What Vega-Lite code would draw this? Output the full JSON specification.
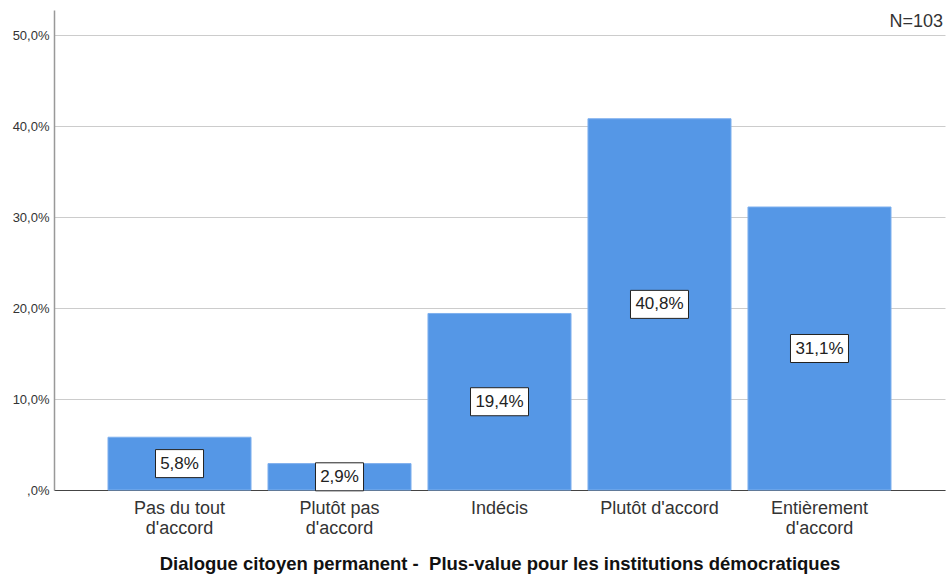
{
  "$schema": "https://vega.github.io/schema/vega-lite/v6.json",
  "width": 891,
  "height": 480,
  "autosize": "none",
  "padding": {"left": 54, "top": 10, "right": 4, "bottom": 88},
  "background": "white",
  "config": {
    "font": "Liberation Sans",
    "view": {"stroke": null},
    "locale": {"number": {"decimal": ",", "thousands": ".", "grouping": [3], "currency": ["", " €"]}}
  },
  "data": {
    "values": [
      {"reponse": "Pas du tout d'accord", "pct": 0.058},
      {"reponse": "Plutôt pas d'accord", "pct": 0.029},
      {"reponse": "Indécis", "pct": 0.194},
      {"reponse": "Plutôt d'accord", "pct": 0.408},
      {"reponse": "Entièrement d'accord", "pct": 0.311}
    ]
  },
  "encoding": {
    "x": {
      "field": "reponse",
      "type": "nominal",
      "sort": null,
      "scale": {"paddingInner": 0.106, "paddingOuter": 0.3375},
      "axis": {
        "title": "Dialogue citoyen permanent -\u00a0 Plus-value pour les institutions démocratiques",
        "titleFontSize": 18.5,
        "titleFontWeight": "bold",
        "titleColor": "#111111",
        "titlePadding": 17,
        "labelAngle": 0,
        "labelFontSize": 18,
        "labelColor": "#333333",
        "labelPadding": 9,
        "labelLineHeight": 20,
        "labelExpr": "datum.value == \"Plutôt d'accord\" ? datum.value : split(replace(datum.value, \" d'accord\", \"|d'accord\"), '|')",
        "ticks": false,
        "domainColor": "#444444",
        "domainWidth": 1,
        "grid": false
      }
    }
  },
  "layer": [
    {
      "mark": {"type": "bar", "color": "#5597e6", "stroke": "#7fb0ee", "strokeWidth": 1},
      "encoding": {
        "y": {
          "field": "pct",
          "type": "quantitative",
          "scale": {"domain": [0, 0.5275], "nice": false},
          "axis": {
            "title": null,
            "values": [0, 0.1, 0.2, 0.3, 0.4, 0.5],
            "format": ".1%",
            "labelExpr": "datum.value == 0 ? ',0%' : datum.label",
            "labelFontSize": 13,
            "labelColor": "#333333",
            "labelPadding": 5,
            "ticks": false,
            "grid": true,
            "gridColor": "#cccccc",
            "gridWidth": 1,
            "domainColor": "#999999",
            "domainWidth": 1.5
          }
        }
      }
    },
    {
      "transform": [{"calculate": "datum.pct / 2", "as": "mid"}],
      "mark": {"type": "point", "filled": true, "fill": "white", "stroke": "#222222", "strokeWidth": 1, "opacity": 1},
      "encoding": {
        "y": {"field": "mid", "type": "quantitative"},
        "size": {"value": 3364},
        "shape": {
          "condition": {"test": "datum.pct >= 0.1", "value": "M-1,-0.483H1V0.483H-1Z"},
          "value": "M-0.828,-0.483H0.828V0.483H-0.828Z"
        }
      }
    },
    {
      "transform": [{"calculate": "datum.pct / 2", "as": "mid"}],
      "mark": {"type": "text", "fontSize": 17, "color": "#222222", "baseline": "middle", "align": "center"},
      "encoding": {
        "y": {"field": "mid", "type": "quantitative"},
        "text": {"field": "pct", "type": "quantitative", "format": ".1%"}
      }
    },
    {
      "data": {"values": [{"note": "N=103"}]},
      "mark": {"type": "text", "fontSize": 18, "color": "#333333", "align": "right", "baseline": "alphabetic", "dx": -2, "dy": 17},
      "encoding": {
        "x": {"value": "width"},
        "y": {"datum": 0.5275, "type": "quantitative"},
        "text": {"field": "note", "type": "nominal"}
      }
    }
  ]
}
